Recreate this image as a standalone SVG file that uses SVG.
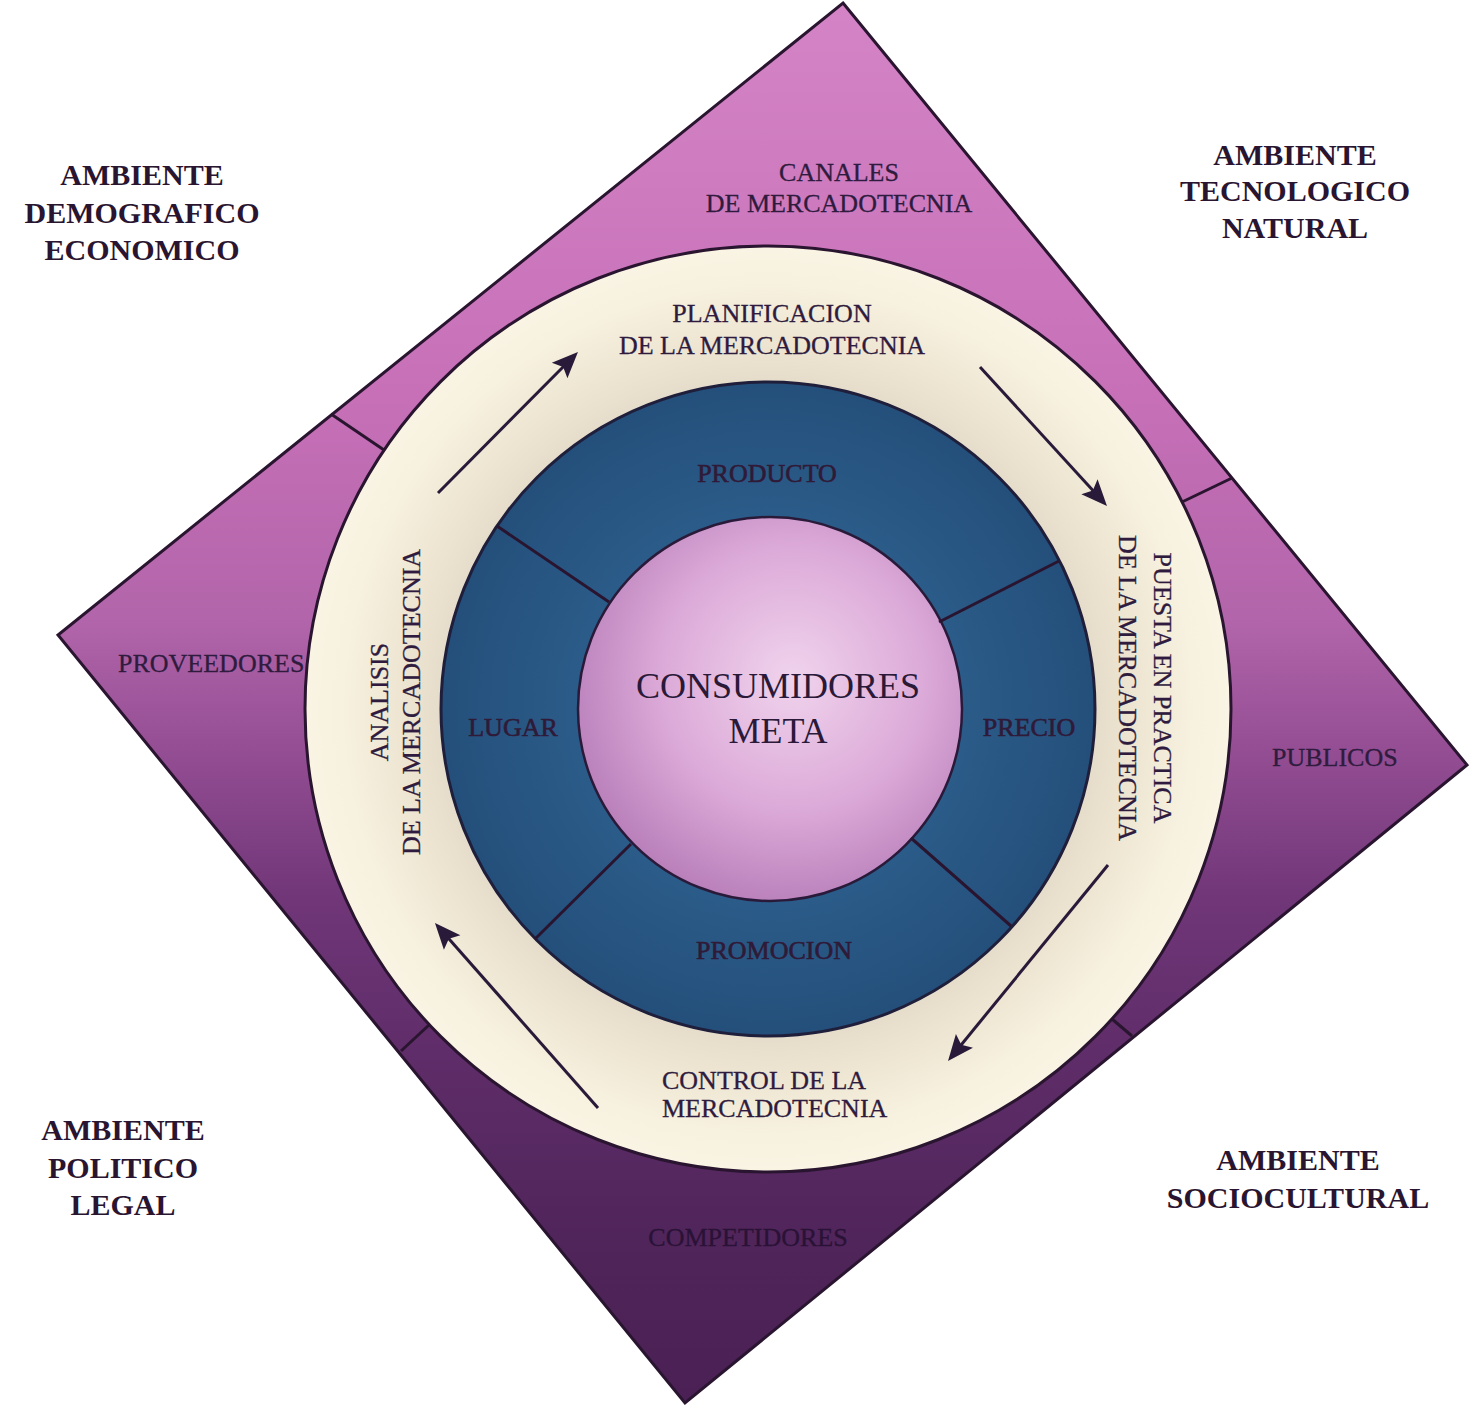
<svg xmlns="http://www.w3.org/2000/svg" width="1471" height="1409" viewBox="0 0 1471 1409">
<defs>
<linearGradient id="gDiamond" gradientUnits="userSpaceOnUse" x1="0" y1="3" x2="0" y2="1403">
<stop offset="0" stop-color="#d484c6"/>
<stop offset="0.28" stop-color="#c770b8"/>
<stop offset="0.44" stop-color="#b265aa"/>
<stop offset="0.54" stop-color="#924c92"/>
<stop offset="0.64" stop-color="#703678"/>
<stop offset="0.75" stop-color="#5f2d69"/>
<stop offset="0.9" stop-color="#4e2459"/>
<stop offset="1" stop-color="#4a2055"/>
</linearGradient>
<radialGradient id="gCream" gradientUnits="userSpaceOnUse" cx="768" cy="709" r="463">
<stop offset="0.68" stop-color="#e3d9c8"/>
<stop offset="0.8" stop-color="#eee6d3"/>
<stop offset="0.92" stop-color="#f7f1df"/>
<stop offset="1" stop-color="#f9f4e3"/>
</radialGradient>
<radialGradient id="gBlue" gradientUnits="userSpaceOnUse" cx="768" cy="709" r="327">
<stop offset="0.6" stop-color="#2b5b88"/>
<stop offset="1" stop-color="#244f7b"/>
</radialGradient>
<radialGradient id="gInner" cx="0.56" cy="0.42" r="0.62">
<stop offset="0" stop-color="#f0d3ed"/>
<stop offset="0.55" stop-color="#dcaad8"/>
<stop offset="1" stop-color="#b67cb8"/>
</radialGradient>
<marker id="arrow" markerUnits="userSpaceOnUse" markerWidth="26" markerHeight="22" viewBox="0 0 26 22" refX="14" refY="11" orient="auto" overflow="visible">
<path d="M0,0 L26,11 L0,22 L5,11 Z" fill="#2a1a3a"/>
</marker>
<style>
.amb{font-family:"Liberation Serif","Times New Roman",serif;font-weight:bold;font-size:30px;fill:#2a1530;text-anchor:middle}
.lbl{font-family:"Liberation Serif","Times New Roman",serif;font-size:26px;fill:#2f1b3e;stroke:#2f1b3e;stroke-width:0.3}
.mid{text-anchor:middle}
.dark{fill:#2a1236;stroke:#2a1236}
.ring{font-family:"Liberation Serif","Times New Roman",serif;font-size:26px;fill:#2f1a38;stroke:#2f1a38;stroke-width:0.6;text-anchor:middle}
.core{font-family:"Liberation Serif","Times New Roman",serif;font-size:36px;fill:#2a1938;text-anchor:middle}
.edge{stroke:#2a1530;stroke-width:3}
.div{stroke:#2a1530;stroke-width:3}
.arr{stroke:#2a1a3a;stroke-width:3;marker-end:url(#arrow)}
</style>
</defs>
<rect width="1471" height="1409" fill="#ffffff"/>

<g id="entorno">
<polygon points="843,3 1467,765 685,1403 58,635" fill="url(#gDiamond)" stroke="#2a1530" stroke-width="3"/>
<text class="lbl mid" x="839" y="181">CANALES</text>
<text class="lbl mid" x="839" y="212">DE MERCADOTECNIA</text>
<text class="lbl" x="118" y="672">PROVEEDORES</text>
<text class="lbl" x="1272" y="766">PUBLICOS</text>
<text class="lbl mid dark" x="748" y="1246">COMPETIDORES</text>
</g>

<g id="proceso">
<circle cx="768" cy="709" r="463" fill="url(#gCream)" class="edge"/>
<text class="lbl mid" x="772" y="322">PLANIFICACION</text>
<text class="lbl mid" x="772" y="354">DE LA MERCADOTECNIA</text>
<text class="lbl mid" transform="translate(1154,688) rotate(90)">PUESTA EN PRACTICA</text>
<text class="lbl mid" transform="translate(1119,688) rotate(90)">DE LA MERCADOTECNIA</text>
<text class="lbl mid" transform="translate(388,702) rotate(-90)">ANALISIS</text>
<text class="lbl mid" transform="translate(420,702) rotate(-90)">DE LA MERCADOTECNIA</text>
<text class="lbl" x="662" y="1089">CONTROL DE LA</text>
<text class="lbl" x="662" y="1117">MERCADOTECNIA</text>
</g>

<g id="mezcla">
<circle cx="768" cy="709" r="327" fill="url(#gBlue)" stroke="#1f1f3c" stroke-width="3"/>
<text class="ring" x="767" y="482">PRODUCTO</text>
<text class="ring" x="513" y="736">LUGAR</text>
<text class="ring" x="1029" y="736">PRECIO</text>
<text class="ring" x="774" y="959">PROMOCION</text>
</g>

<g id="consumidores">
<circle cx="770" cy="709" r="192" fill="url(#gInner)" stroke="#2a1a3a" stroke-width="2.5"/>
<text class="core" x="778" y="698">CONSUMIDORES</text>
<text class="core" x="778" y="743">META</text>
</g>

<g id="ambiente-demografico">
<text class="amb" x="142" y="185">AMBIENTE</text>
<text class="amb" x="142" y="223">DEMOGRAFICO</text>
<text class="amb" x="142" y="260">ECONOMICO</text>
</g>
<g id="ambiente-tecnologico">
<text class="amb" x="1295" y="165">AMBIENTE</text>
<text class="amb" x="1295" y="201">TECNOLOGICO</text>
<text class="amb" x="1295" y="238">NATURAL</text>
</g>
<g id="ambiente-politico">
<text class="amb" x="123" y="1140">AMBIENTE</text>
<text class="amb" x="123" y="1178">POLITICO</text>
<text class="amb" x="123" y="1215">LEGAL</text>
</g>
<g id="ambiente-sociocultural">
<text class="amb" x="1298" y="1170">AMBIENTE</text>
<text class="amb" x="1298" y="1208">SOCIOCULTURAL</text>
</g>

<g id="connectors">
<line class="div" x1="384" y1="450" x2="331" y2="414"/>
<line class="div" x1="1182" y1="502" x2="1232" y2="478"/>
<line class="div" x1="429" y1="1025" x2="401" y2="1051"/>
<line class="div" x1="1112" y1="1019" x2="1132" y2="1036"/>
<line class="div" x1="609" y1="602" x2="497" y2="526"/>
<line class="div" x1="939" y1="622" x2="1059" y2="561"/>
<line class="div" x1="631" y1="844" x2="535" y2="939"/>
<line class="div" x1="911" y1="838" x2="1011" y2="926"/>
<line class="arr" x1="438" y1="493" x2="569.5" y2="360.5"/>
<line class="arr" x1="980" y1="367" x2="1098.9" y2="497.1"/>
<line class="arr" x1="1108" y1="865" x2="955.6" y2="1051.7"/>
<line class="arr" x1="598" y1="1108" x2="442.9" y2="932"/>
</g>
</svg>
